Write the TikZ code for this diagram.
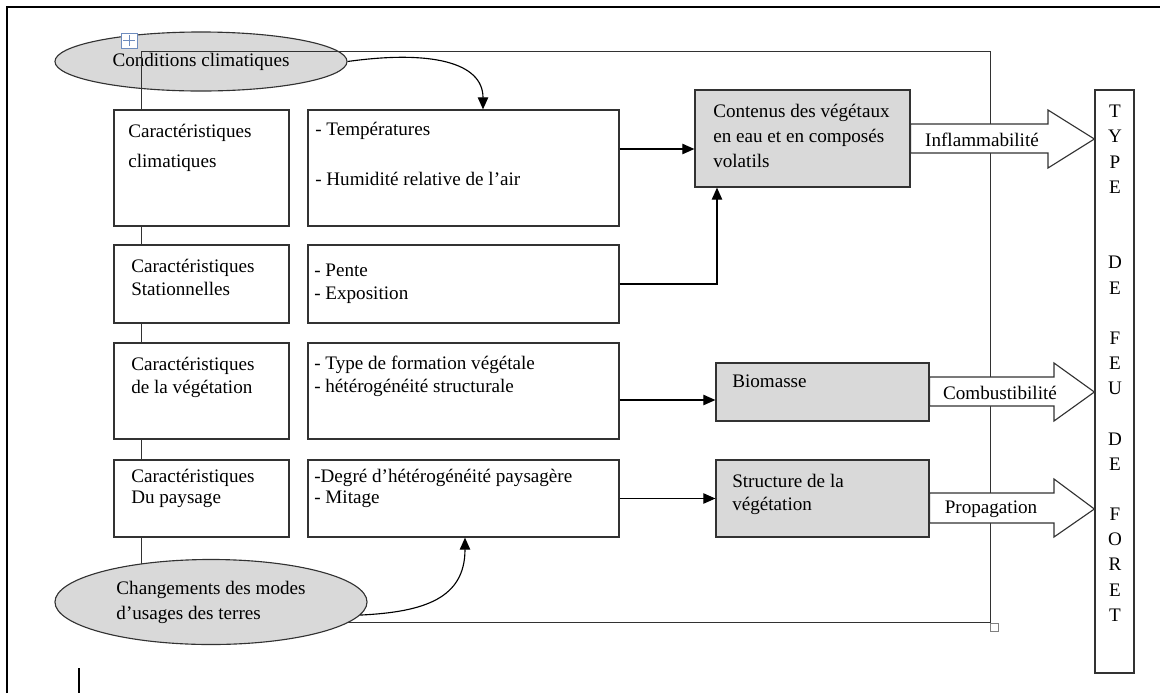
\documentclass[tikz,border=0pt]{standalone}
\usepackage{fontspec}
\setmainfont{Liberation Serif}
\usetikzlibrary{arrows.meta,shapes.geometric,fit}

\definecolor{boxgray}{RGB}{217,217,217}
\definecolor{linegray}{RGB}{50,50,50}
\definecolor{iconblue}{RGB}{110,140,190}

\begin{document}
\begin{tikzpicture}[x=0.025cm,y=-0.025cm,
  box/.style={draw=linegray,line width=0.9pt,fill=white},
  gbox/.style={box,fill=boxgray},
  oval/.style={ellipse,draw=linegray,line width=0.8pt,fill=boxgray},
  txt/.style={anchor=north west,align=left,font=\fontsize{13.6}{16.3}\selectfont},
  conn/.style={draw=black,line width=0.8pt,-{Triangle[length=3mm,width=2.6mm]}},
  bigarr/.style={draw=linegray,line width=0.8pt,fill=white}]
\tikzstyle{every node}+=[inner sep=0pt]
\useasboundingbox (0,0) rectangle (1160,693);
\draw [black,line width=1.5pt] (7,693) -- (7,7) -- (1160,7);
\draw [black,line width=1.2pt] (79,668) -- (79,693);
\node [oval,minimum width=7.3cm,minimum height=1.475cm,font=\fontsize{13.6}{16.3}\selectfont] (cond) at (201,61.5) {Conditions climatiques};
\draw [linegray,line width=0.7pt] (141,622) -- (141,51) -- (990,51) -- (990,622) -- (141,622);
\draw [iconblue,fill=white,line width=0.5pt] (121,33) rectangle (137,48);
\draw [iconblue,line width=0.6pt] (123,40.5) -- (135,40.5) (129,35) -- (129,46);
\draw [gray,fill=white,line width=0.5pt] (990,623) rectangle (998,631);
\node [box,fit={(114,110) (289,226)}] (lc1) {};
\node [box,fit={(308,110) (619,226)}] (mc1) {};
\node [box,fit={(114,245) (289,323)}] (lc2) {};
\node [box,fit={(308,245) (619,323)}] (mc2) {};
\node [box,fit={(114,343) (289,439)}] (lc3) {};
\node [box,fit={(308,343) (619,439)}] (mc3) {};
\node [box,fit={(114,460) (289,537)}] (lc4) {};
\node [box,fit={(308,460) (619,537)}] (mc4) {};
\node [gbox,fit={(695,90) (910,187)}] (cont) {};
\node [gbox,fit={(716,363) (929,421)}] (bio) {};
\node [gbox,fit={(716,460) (929,537)}] (struc) {};
\node [box,fit={(1095,90) (1134,673)}] (type) {};
\node [oval,minimum width=7.8cm,minimum height=2.125cm,align=left,font=\fontsize{13.6}{17.7}\selectfont] (chg) at (211,602) {Changements des modes\\d'usages des terres};
\node [txt,font=\fontsize{13.6}{21.3}\selectfont] (lt1) at (128,124) {Caractéristiques\\climatiques};
\node [txt,font=\fontsize{13.6}{17.7}\selectfont] (mt1) at (315,122) {- Températures\\\mbox{}\\- Humidité relative de l'air};
\node [txt] (lt2) at (131,259) {Caractéristiques\\Stationnelles};
\node [txt] (mt2) at (314,264) {- Pente\\- Exposition};
\node [txt] (lt3) at (131,357) {Caractéristiques\\de la végétation};
\node [txt] (mt3) at (314,356) {- Type de formation végétale\\- hétérogénéité structurale};
\node [txt,font=\fontsize{13.6}{15}\selectfont] (lt4) at (131,469) {Caractéristiques\\Du paysage};
\node [txt,font=\fontsize{13.6}{15}\selectfont] (mt4) at (314,469) {-Degré d'hétérogénéité paysagère\\- Mitage};
\node [txt,font=\fontsize{13.6}{17.7}\selectfont] (ct) at (713,104) {Contenus des végétaux\\en eau et en composés\\volatils};
\node [txt] (bt) at (732,375) {Biomasse};
\node [txt] (st) at (732,474) {Structure de la\\végétation};
\draw [conn] (cond.east) .. controls (430,50) and (483,62) .. (483,0 |- mc1.north);
\draw [conn] (chg.-5) .. controls (425,612) and (465,598) .. (465,0 |- mc4.south);
\draw [conn] (mc1.east |- 0,149) -- (cont.west |- 0,149);
\draw [conn] (mc2.east) -| (717,0 |- cont.south);
\draw [conn] (mc3.east |- 0,400) -- (bio.west |- 0,400);
\draw [conn] (mc4.east) -- (struc.west);
\draw [bigarr] (cont.east |- 0,124) -- (1048,124) -- (1048,110) -- (type.west |- 0,139) -- (1048,168) -- (1048,153) -- (cont.east |- 0,153) -- cycle;
\draw [bigarr] (bio.east |- 0,377) -- (1054,377) -- (1054,363) -- (type.west |- 0,392) -- (1054,421) -- (1054,406) -- (bio.east |- 0,406) -- cycle;
\draw [bigarr] (struc.east |- 0,493) -- (1054,493) -- (1054,479) -- (type.west |- 0,509) -- (1054,537) -- (1054,523) -- (struc.east |- 0,523) -- cycle;
\node [font=\fontsize{13.6}{16.3}\selectfont] (infl) at (982,140) {Inflammabilité};
\node [font=\fontsize{13.6}{16.3}\selectfont] (comb) at (1000,393) {Combustibilité};
\node [font=\fontsize{13.6}{16.3}\selectfont] (prop) at (991,509) {Propagation};
\node [anchor=north,align=center,font=\fontsize{13.6}{17.9}\selectfont] (tt) at (1115,105) {T\\Y\\P\\E\\\mbox{}\\\mbox{}\\D\\E\\\mbox{}\\F\\E\\U\\\mbox{}\\D\\E\\\mbox{}\\F\\O\\R\\E\\T};
\end{tikzpicture}
\end{document}
